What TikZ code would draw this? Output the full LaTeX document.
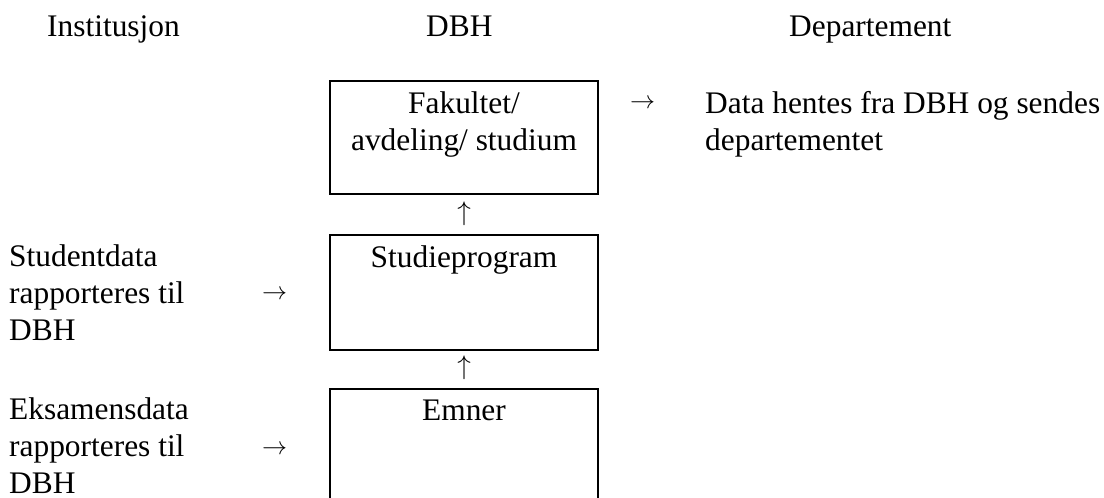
\documentclass[tikz,border=0pt]{standalone}
\usepackage{fontspec}
\usepackage{graphicx}
\setmainfont{Liberation Serif}
\newcommand{\myrarr}{\resizebox{25pt}{!}{$\rightarrow$}}
\newcommand{\myuarr}{\resizebox*{!}{24pt}{$\uparrow$}}
\begin{document}
\begin{tikzpicture}[x=1pt,y=-1pt,
  txt/.style={font=\fontsize{31.4}{37}\selectfont, inner sep=0pt, align=left},
  ctxt/.style={font=\fontsize{31.4}{37}\selectfont, inner sep=0pt, align=center},
  arr/.style={inner sep=0pt},
  box/.style={draw, line width=2pt, minimum width=268pt, inner sep=0pt}]
\clip (0,0) rectangle (1104,498);
% headers
\node[txt, anchor=base west] (hinst) at (47,36) {Institusjon};
\node[txt, anchor=base west] (hdbh) at (426,36) {DBH};
\node[txt, anchor=base west] (hdep) at (789,36) {Departement};
% boxes
\node[box, minimum height=113pt] (fak) at (464,137.5) {};
\node[box, minimum height=115pt] (stp) at (464,292.5) {};
\node[box, minimum height=131pt] (emn) at (464,454.5) {};
\node[ctxt, anchor=base] (fakt) at (464,150) {Fakultet/\\avdeling/ studium};
\node[ctxt, anchor=base] (stpt) at (464,267) {Studieprogram};
\node[ctxt, anchor=base] (emnt) at (464,420) {Emner};
% up arrows
\node[arr] (up1) at (464,214) {\myuarr};
\node[arr] (up2) at (464,367.5) {\myuarr};
% left texts
\node[txt, anchor=base west] (stud) at (9,340) {Studentdata\\rapporteres til\\DBH};
\node[txt, anchor=base west] (eks) at (9,493) {Eksamensdata\\rapporteres til\\DBH};
\node[arr] (ra1) at (274.5,295) {\myrarr};
\node[arr] (ra2) at (274.5,450) {\myrarr};
% right
\node[arr] (ra3) at (642.5,104) {\myrarr};
\node[txt, anchor=base west] (data) at (705,150) {Data hentes fra DBH og sendes\\departementet};
\end{tikzpicture}
\end{document}
